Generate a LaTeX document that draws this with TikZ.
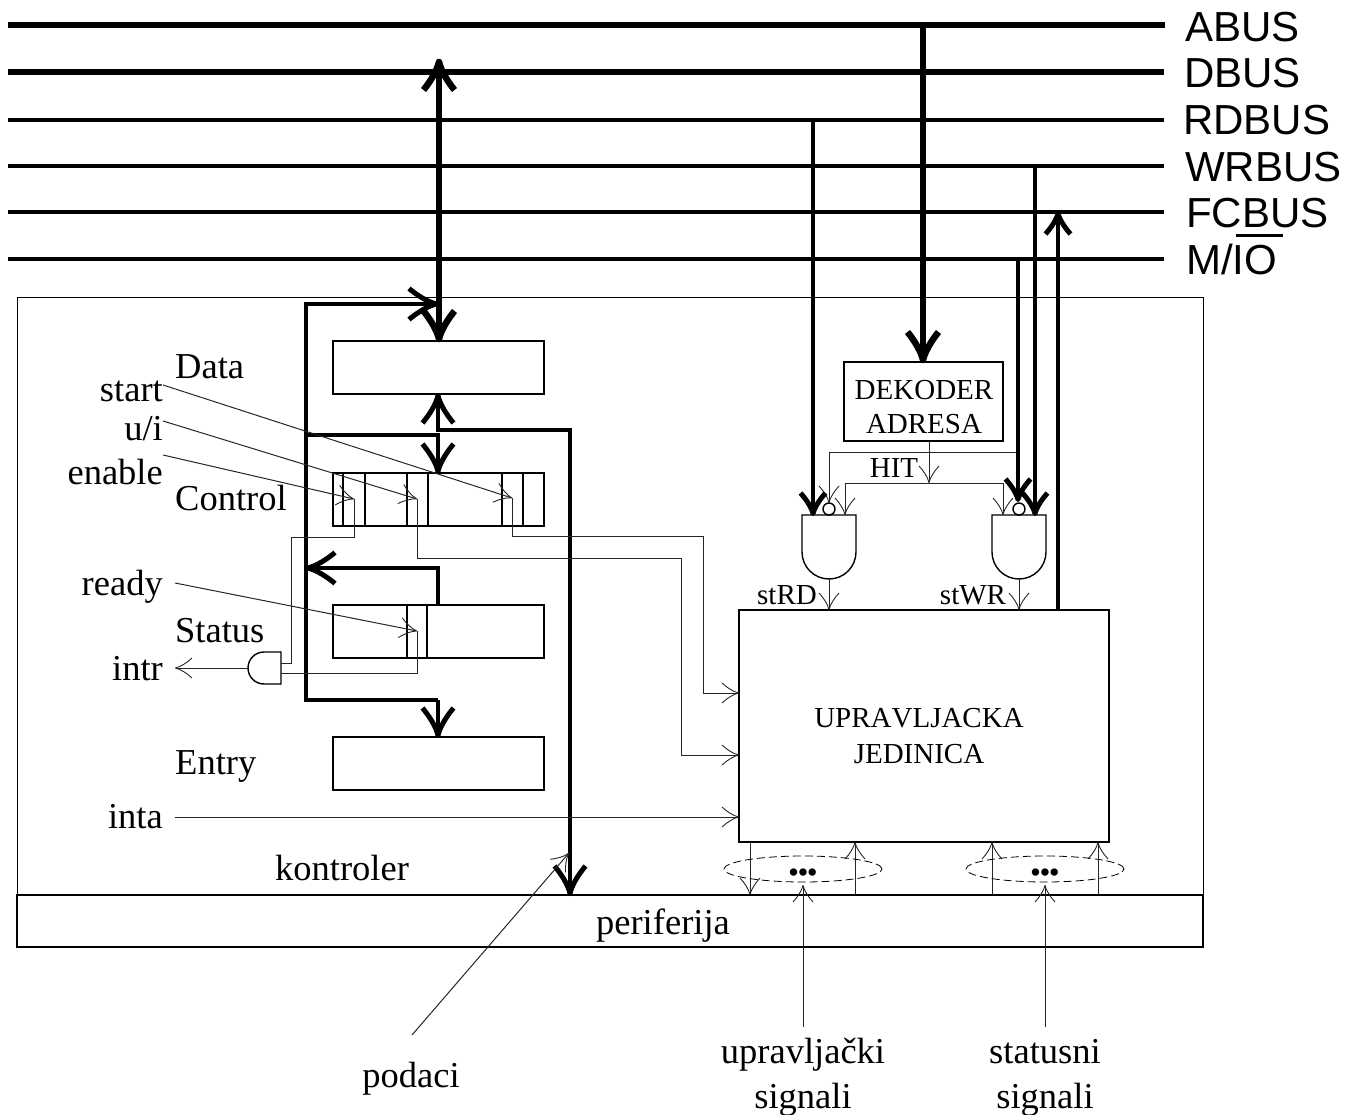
\documentclass[tikz,border=0pt]{standalone}
\usepackage{fontspec}
\setmainfont[Kerning=Off]{Liberation Serif}
\newfontfamily\busfont[Kerning=Off]{Liberation Sans}
\usetikzlibrary{arrows.meta,shapes.geometric}
\pgfdeclarearrow{
  name=Barbed,
  defaults={length=17pt,width=20pt,line width=1pt},
  setup code={
    \pgfarrowssettipend{0pt}
    \pgfarrowssetlineend{-1.5\pgfarrowlinewidth}
    \pgfarrowssetvisualbackend{-\pgfarrowlength}
    \pgfarrowssavethe\pgfarrowlength
    \pgfarrowssavethe\pgfarrowwidth
    \pgfarrowssavethe\pgfarrowlinewidth
  },
  drawing code={
    \pgfsetlinewidth{\pgfarrowlinewidth}
    \pgfsetdash{}{0pt}
    \pgfsetbuttcap
    \pgfsetroundjoin
    \pgfpathmoveto{\pgfpoint{-\pgfarrowlength}{.5\pgfarrowwidth}}
    \pgfpathcurveto{\pgfpoint{-.72\pgfarrowlength}{.28\pgfarrowwidth}}{\pgfpoint{-.35\pgfarrowlength}{.06\pgfarrowwidth}}{\pgfpoint{-.3\pgfarrowlinewidth}{0pt}}
    \pgfpathcurveto{\pgfpoint{-.35\pgfarrowlength}{-.06\pgfarrowwidth}}{\pgfpoint{-.72\pgfarrowlength}{-.28\pgfarrowwidth}}{\pgfpoint{-\pgfarrowlength}{-.5\pgfarrowwidth}}
    \pgfusepathqstroke
  },
  parameters={\the\pgfarrowlength,\the\pgfarrowwidth,\the\pgfarrowlinewidth}
}
\tikzset{
  busline/.style={line width=#1,line cap=butt},
  buslabel/.style={anchor=base west,inner sep=0pt,font=\busfont\fontsize{42}{42}\selectfont},
  lbl/.style={inner sep=0pt,font=\fontsize{36.5}{45}\selectfont,align=center},
  rlbl/.style={lbl,anchor=base east},
  llbl/.style={lbl,anchor=base west},
  clbl/.style={lbl,anchor=base},
  small/.style={inner sep=0pt,anchor=base,font=\fontsize{29}{35}\selectfont,align=center},
  regbox/.style={draw,line width=1.4pt,inner sep=0pt,outer sep=0pt,minimum width=211pt,minimum height=53pt},
  panel/.style={draw,line width=1pt,text=black,inner sep=0pt,outer sep=0pt},
  unitbox/.style={draw,line width=1.4pt,inner sep=0pt,outer sep=0pt,align=center,font=\fontsize{29}{36}\selectfont},
  thinhead/.tip={Barbed[length=17pt,width=20pt,line width=0.9pt]},
  smallhead/.tip={Barbed[length=22pt,width=25pt,line width=5pt]},
  midhead/.tip={Barbed[length=29pt,width=31pt,line width=5pt]},
  bighead/.tip={Barbed[length=30pt,width=31pt,line width=6.5pt]},
  wire/.style={line width=1pt,color=black!85},
  thinar/.style={wire,-{thinhead}},
  heavy/.style={line width=4.4pt,line join=miter},
  heavyar/.style={heavy,-{midhead}},
  sigar/.style={heavy,-{smallhead}},
  bigar/.style={line width=5.5pt,-{bighead}},
  gate/.style={draw,line width=1.4pt,fill=white},
  dashell/.style={draw,ellipse,dash pattern=on 8pt off 4pt,line width=0.8pt,minimum width=158pt,minimum height=26pt,inner sep=0pt,outer sep=0pt},
  threedots/.style={inner sep=0pt,anchor=center,font=\busfont\fontsize{27}{27}\selectfont},
  bubble/.style={draw,circle,line width=1.4pt,minimum size=12pt,inner sep=0pt,outer sep=0pt},
}
\begin{document}
\begin{tikzpicture}[x=1pt,y=-1pt]
\useasboundingbox (0,0) rectangle (1345,1115);
% panels
\node[panel,minimum width=1186pt,minimum height=597pt] (ctl) at (610,596.5) {};
\node[panel,line width=1.4pt,minimum width=1186pt,minimum height=52pt] (per) at (610,921) {};
\node[clbl] (pertxt) at (663,934) {periferija};
\node[clbl] (ctltxt) at (342,880) {kontroler};
% buses
\coordinate (aL) at (8,25);  \coordinate (aR) at (1165,25);
\coordinate (dL) at (8,72);  \coordinate (dR) at (1164,72);
\coordinate (rL) at (8,120); \coordinate (rR) at (1164,120);
\coordinate (wL) at (8,166); \coordinate (wR) at (1164,166);
\coordinate (fL) at (8,212); \coordinate (fR) at (1164,212);
\coordinate (mL) at (8,259); \coordinate (mR) at (1164,259);
\draw[busline=6pt] (aL) -- (aR);
\draw[busline=6pt] (dL) -- (dR);
\draw[busline=4pt] (rL) -- (rR);
\draw[busline=4pt] (wL) -- (wR);
\draw[busline=4pt] (fL) -- (fR);
\draw[busline=4pt] (mL) -- (mR);
\node[buslabel] (labA) at (1185,42) {ABUS};
\node[buslabel] (labD) at (1184,88) {DBUS};
\node[buslabel] (labR) at (1183,135) {RDBUS};
\node[buslabel] (labW) at (1185,182) {WRBUS};
\node[buslabel] (labF) at (1186,228) {FCBUS};
\node[buslabel] (labM) at (1186,275) {M/\vbox{\offinterlineskip\moveright 3pt\hbox{\vrule width 47pt height 2.5pt depth 0pt}\kern 9pt\hbox{IO}}};
% registers
\node[regbox] (data) at (438.5,367.5) {};
\node[regbox] (control) at (438.5,499.5) {};
\node[regbox] (status) at (438.5,631.5) {};
\node[regbox] (entry) at (438.5,763.5) {};
\foreach \dx in {343,365,407,428,502,523}
  \draw[line width=1.2pt] (\dx,473) -- (\dx,526);
\foreach \dx in {407,427}
  \draw[line width=1.2pt] (\dx,605) -- (\dx,658);
\node[llbl] (tdata) at (175,379) {Data};
\node[llbl] (tcontrol) at (175,510) {Control};
\node[llbl] (tstatus) at (175,642) {Status};
\node[llbl] (tentry) at (175,774) {Entry};
\node[rlbl] (tstart) at (163,402) {start};
\node[rlbl] (tui) at (163,441) {u/i};
\node[rlbl] (tenable) at (163,484) {enable};
\node[rlbl] (tready) at (163,595) {ready};
\node[rlbl] (tintr) at (163,680) {intr};
\node[rlbl] (tinta) at (163,828) {inta};
% decoder, control unit
\node[unitbox,minimum width=159pt,minimum height=79pt] (dek) at (923.5,401.5) {};
\node[small] (dektxt) at (924,434) {DEKODER\\ADRESA};
\node[unitbox,minimum width=370pt,minimum height=232pt] (uj) at (924,726) {};
\node[inner sep=0pt,align=center,font=\fontsize{29}{36}\selectfont] (ujtxt) at (919,736.5) {UPRAVLJACKA\\JEDINICA};
% gates
\draw[gate] (802,515) -- (856,515) -- (856,552) arc[start angle=0,end angle=-180,radius=27pt] -- cycle;
\draw[gate] (992,515) -- (1046,515) -- (1046,552) arc[start angle=0,end angle=-180,radius=27pt] -- cycle;
\node[bubble] (bub1) at (829,509) {};
\node[bubble] (bub2) at (1019,509) {};
\draw[gate] (281,652) -- (264,652) arc[start angle=90,end angle=270,radius=16pt] -- (281,684) -- cycle;
\coordinate (g1i) at (845,515); \coordinate (g2i) at (1003,515);
\coordinate (g1o) at (829,579); \coordinate (g2o) at (1019,579);
\coordinate (a3i) at (281,663); \coordinate (a3j) at (281,673);
\coordinate (a3o) at (248,668);
\node[small] (hit) at (894,477) {HIT};
\node[small] (strd) at (787,604) {stRD};
\node[small] (stwr) at (973,604) {stWR};
% decoder wiring
\coordinate (hitj) at (929,483);
\coordinate (hitl) at (845,483); \coordinate (hitr) at (1003,483);
\coordinate (mioj) at (1018,452); \coordinate (miol) at (829,452);
\draw[thinar] (dek.south -| hitj) -- (hitj);
\draw[wire] (hitl) -- (hitr);
\draw[thinar] (hitl) -- (g1i);
\draw[thinar] (hitr) -- (g2i);
\draw[wire] (mioj) -- (miol);
\draw[thinar] (miol) -- (bub1.north);
\draw[thinar] (g1o) -- (uj.north -| g1o);
\draw[thinar] (g2o) -- (uj.north -| g2o);
% heavy bus links
\coordinate (abj) at (923,25);
\coordinate (dbj) at (439,72);
\coordinate (dbtop) at (439,60);
\coordinate (rdj) at (813,120);
\coordinate (wrj) at (1035,166);
\coordinate (fcj) at (1058,212);
\coordinate (mij) at (1018,259);
\draw[bigar] (abj) -- (dek.north -| abj);
\draw[line width=5.5pt,{bighead}-{bighead}] (dbtop) -- (data.north -| dbtop);
\draw[sigar] (rdj) -- (813,515);
\draw[sigar] (wrj) -- (1035,515);
\draw[sigar] (mij) -- (1018,501);
\draw[sigar] (uj.north -| fcj) -- (fcj);
% internal data bus
\coordinate (tl) at (306,304); \coordinate (tr) at (438,304);
\coordinate (cl) at (306,435); \coordinate (cr) at (438,435);
\coordinate (sl) at (306,568); \coordinate (sr) at (438,568);
\coordinate (el) at (306,700); \coordinate (er) at (438,700);
\coordinate (pt) at (570,430); \coordinate (pm) at (438,430);
\draw[heavyar,line width=4.8pt] (er |- 0,700) -- (el) -- (tl) -- (tr);
\draw[heavyar] (cl) -- (cr) -- (control.north -| cr);
\draw[heavyar] (status.north -| sr) -- (sr) -- (sl);
\draw[heavyar] (er) -- (entry.north -| er);
\draw[heavyar] (pt) -- (pm) -- (data.south -| pm);
\draw[heavyar] (pm) -- (pt) -- (per.north -| pt);
% control signal lines
\coordinate (st) at (163,385);  \coordinate (sttip) at (512,498);
\coordinate (ui) at (163,421);  \coordinate (uitip) at (417,499);
\coordinate (en) at (163,455);  \coordinate (entip) at (354,499);
\coordinate (re) at (175,583);  \coordinate (retip) at (417,631);
\coordinate (ina) at (175,817);
\coordinate (intrend) at (175,668);
\draw[thinar] (st) -- (sttip);
\draw[thinar] (ui) -- (uitip);
\draw[thinar] (en) -- (entip);
\draw[thinar] (re) -- (retip);
\draw[wire] (entip) |- (291,537) |- (a3i);
\draw[wire] (retip) |- (a3j);
\draw[thinar] (a3o) -- (intrend);
\draw[wire] (uitip) |- (681,558) -- (681,755);
\draw[thinar] (681,755) -- (uj.west |- 681,755);
\draw[wire] (sttip) |- (703,536) -- (703,693);
\draw[thinar] (703,693) -- (uj.west |- 703,693);
\draw[thinar] (ina) -- (uj.west |- ina);
% podaci
\coordinate (potip) at (569,853);
\coordinate (pobeg) at (412,1035);
\draw[thinar] (pobeg) -- (potip);
\node[clbl] (potxt) at (411,1087) {podaci};
% bottom signals
\draw[thinar] (uj.south -| 750,0) -- (per.north -| 750,0);
\draw[thinar] (per.north -| 855,0) -- (uj.south -| 855,0);
\draw[thinar] (per.north -| 992,0) -- (uj.south -| 992,0);
\draw[thinar] (per.north -| 1098,0) -- (uj.south -| 1098,0);
\node[dashell] (el1) at (803,869) {};
\node[dashell] (el2) at (1045,869) {};
\node[threedots] (dots1) at (803,875) {•••};
\node[threedots] (dots2) at (1045,875) {•••};
\node[lbl,anchor=base] (ctxt) at (803,1108) {upravljački\\signali};
\node[lbl,anchor=base] (stxt) at (1045,1108) {statusni\\signali};
\coordinate (c1) at (803,1027); \coordinate (c2) at (1045,1027);
\draw[thinar] (c1) -- (803,885);
\draw[thinar] (c2) -- (1045,885);
\end{tikzpicture}
\end{document}
